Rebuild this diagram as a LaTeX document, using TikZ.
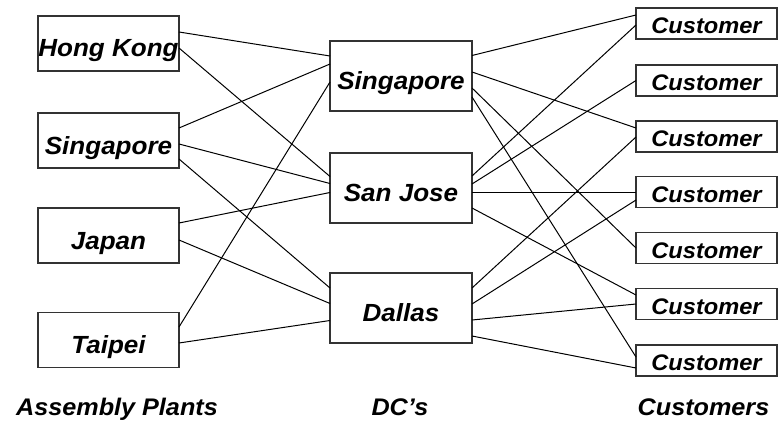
\documentclass[tikz,border=0pt]{standalone}
\usepackage{fontspec}
\setmainfont{Liberation Sans}
\newfontfamily\labfont[FakeStretch=1.05]{Liberation Sans}
\usetikzlibrary{calc}
\newcommand\lnk[4]{\draw[link] ($(#1.east)+(0,#2)$) -- ($(#3.west)+(0,#4)$);}
\begin{document}
\begin{tikzpicture}[x=1pt,y=-1pt,
  box/.style={draw=black!80, line width=1.1pt, rectangle, inner xsep=0pt, inner ysep=0pt, outer sep=0pt,
    font=\labfont\bfseries\itshape\fontsize{24.8}{29}\selectfont, text height=27pt, text depth=0pt},
  plant/.style={box, minimum width=141pt, minimum height=55pt},
  dc/.style={box, minimum width=142pt, minimum height=70pt},
  cust/.style={box, minimum width=141pt, minimum height=31pt,
    font=\labfont\bfseries\itshape\fontsize{22.5}{26}\selectfont, text height=20.5pt},
  link/.style={line width=1pt, black},
  caption/.style={anchor=base, inner sep=0pt, font=\labfont\bfseries\itshape\fontsize{24}{28}\selectfont}]
\useasboundingbox (0,0) rectangle (778,425);
\node[plant] (hk)  at (108.5,43.5)  {Hong Kong};
\node[plant] (sgp) at (108.5,140.5) {Singapore};
\node[plant] (jp)  at (108.5,235.5) {Japan};
\node[plant] (tp)  at (108.5,340)   {Taipei};
\node[dc] (sgd) at (401,76)  {Singapore};
\node[dc] (sj)  at (401,188) {San Jose};
\node[dc] (dal) at (401,308) {Dallas};
\node[cust] (c1) at (706.5,23.5)  {Customer};
\node[cust] (c2) at (706.5,80.5)  {Customer};
\node[cust] (c3) at (706.5,136.5) {Customer};
\node[cust] (c4) at (706.5,192)   {Customer};
\node[cust] (c5) at (706.5,248)   {Customer};
\node[cust] (c6) at (706.5,304)   {Customer};
\node[cust] (c7) at (706.5,360.5) {Customer};
\lnk{hk}{-11.5}{sgd}{-20}
\lnk{hk}{4.5}{sj}{-11.5}
\lnk{sgp}{-12.5}{sgd}{-12}
\lnk{sgp}{3.5}{sj}{-4.5}
\lnk{sgp}{18.5}{dal}{-20}
\lnk{jp}{-12.5}{sj}{4.5}
\lnk{jp}{4.5}{dal}{-4.5}
\lnk{tp}{-13}{sgd}{6}
\lnk{tp}{3}{dal}{12.5}
\lnk{sgd}{-20.5}{c1}{-8.5}
\lnk{sgd}{-4}{c3}{-8.5}
\lnk{sgd}{12}{c5}{0}
\lnk{sgd}{21}{c7}{-3.5}
\lnk{sj}{-12}{c1}{1.5}
\lnk{sj}{-4}{c2}{0}
\lnk{sj}{4}{c4}{0}
\lnk{sj}{20}{c6}{-9}
\lnk{dal}{-20}{c3}{0.5}
\lnk{dal}{-4}{c4}{8}
\lnk{dal}{12}{c6}{0}
\lnk{dal}{28}{c7}{7.5}
\node[caption] (lp) at (117,415)   {Assembly Plants};
\node[caption] (ld) at (400,415)   {DC’s};
\node[caption] (lc) at (703.5,415) {Customers};
\end{tikzpicture}
\end{document}
